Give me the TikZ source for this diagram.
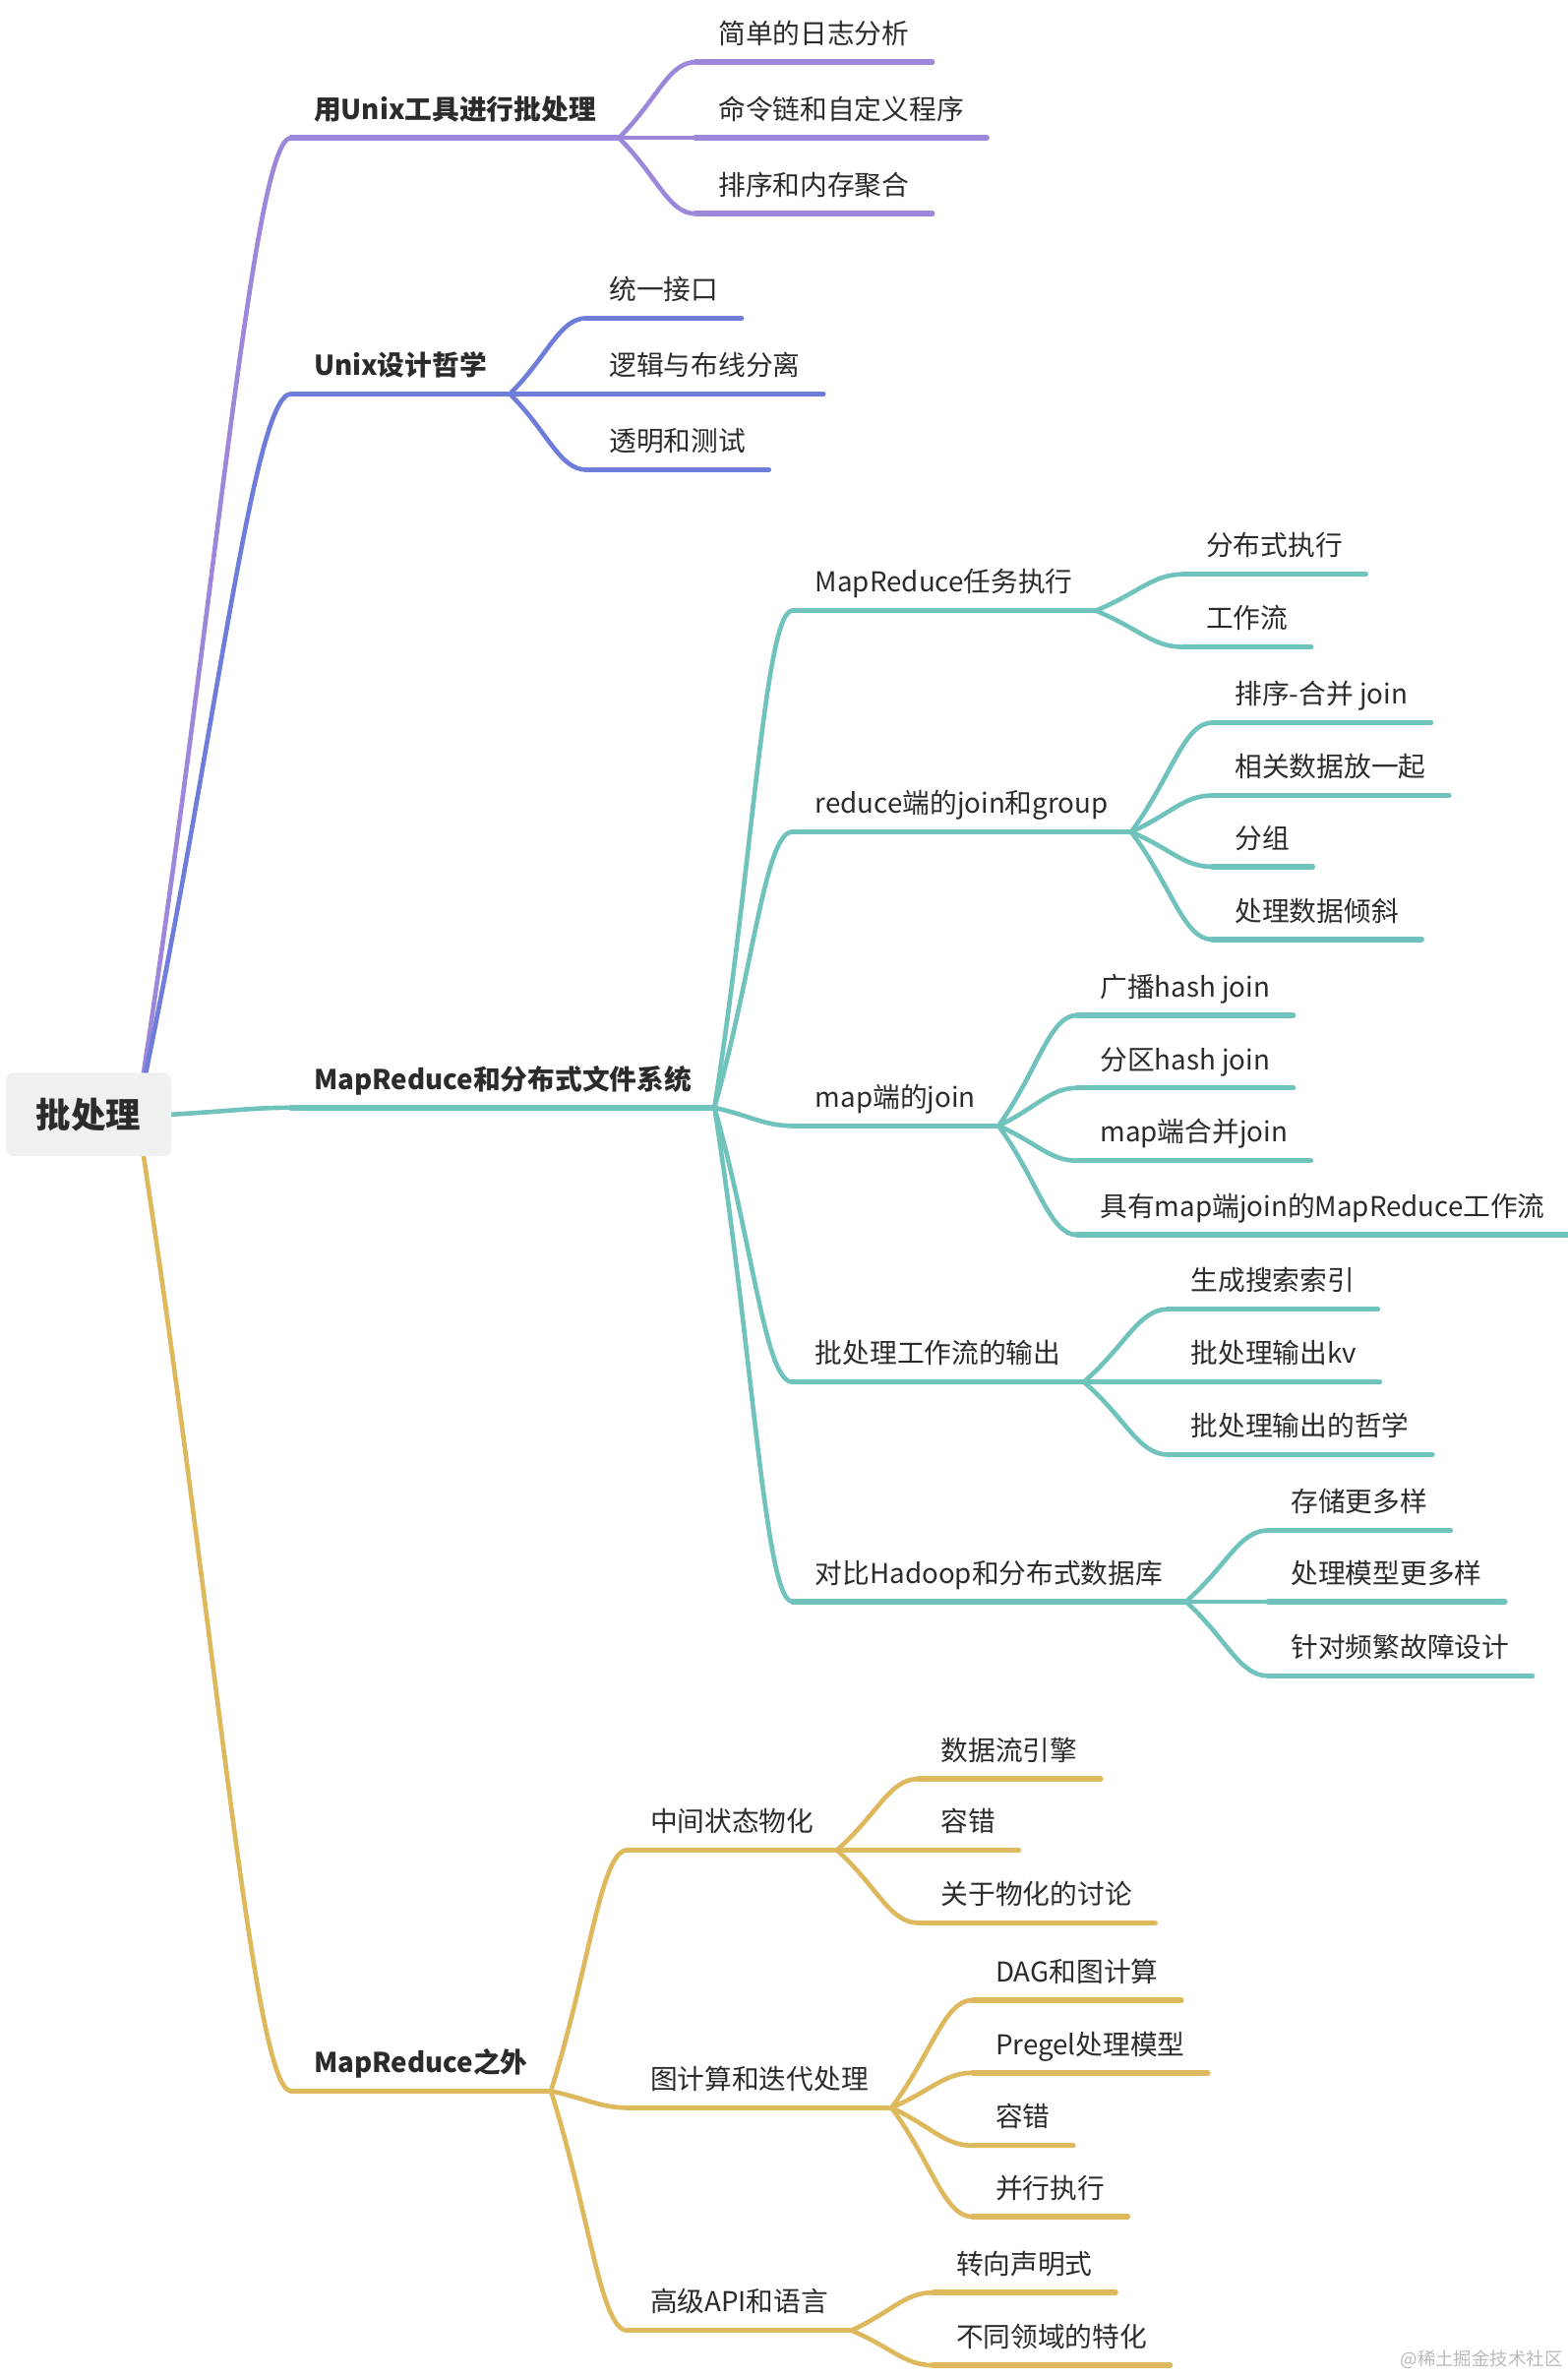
\documentclass[tikz,border=0pt]{standalone}
\usepackage{fontspec}
\setmainfont{Noto Sans CJK SC}
\usetikzlibrary{calc,backgrounds}
\definecolor{cpurple}{HTML}{9D87DA}
\definecolor{cblue}{HTML}{6E7DD9}
\definecolor{cteal}{HTML}{70C3BC}
\definecolor{cyellow}{HTML}{DDB85C}
\definecolor{ink}{HTML}{2B2B2B}
\definecolor{rootgray}{HTML}{EFF1F0}
% connector from the end of one underline to the start of the next
\newcommand{\link}[3]{\draw[br,#1] (#2.south east) .. controls ($(#2.south east)!0.5!(#3.south west)$) and ($(#3.south west)!0.35!(#2.south east |- #3.south west)$) .. (#3.south west);}
\begin{document}
\begin{tikzpicture}[x=1pt, y=-1pt, text=ink, font=\fontsize{18}{22}\selectfont,
  topic/.style = {anchor=south west, inner xsep=15pt, inner ysep=8pt, text height=14pt, text depth=4pt,
    append after command={(\tikzlastnode.south west) edge[ul, draw=#1] (\tikzlastnode.south east)}},
  main/.style = {topic=#1, font=\fontsize{18}{22}\selectfont\bfseries},
  root/.style = {fill=rootgray, rounded corners=5pt, minimum width=109pt, minimum height=55pt, inner sep=0pt,
    font=\fontsize{23}{26}\selectfont\bfseries},
  ul/.style = {line width=3.5pt, line cap=round},
  br/.style = {line width=3pt, line cap=round}]
\useasboundingbox (0,0) rectangle (1035,1569.4);

\node[root] (root) at (58.5,735.5) {批处理};
\coordinate (hub) at ([xshift=32pt]root.center);

% first level
\node[main=cpurple] (unix) at (192,91) {用Unix工具进行批处理};
\node[main=cblue] (phil) at (192,260) {Unix设计哲学};
\node[main=cteal] (mr) at (192,731) {MapReduce和分布式文件系统};
\node[main=cyellow] (beyond) at (192,1380) {MapReduce之外};

% Unix tools
\node[topic=cpurple] (u1) at (459,41) {简单的日志分析};
\node[topic=cpurple] (u2) at (459,91) {命令链和自定义程序};
\node[topic=cpurple] (u3) at (459,141) {排序和内存聚合};

% design philosophy
\node[topic=cblue] (p1) at (387,210) {统一接口};
\node[topic=cblue] (p2) at (387,260) {逻辑与布线分离};
\node[topic=cblue] (p3) at (387,310) {透明和测试};

% MapReduce
\node[topic=cteal] (job) at (523,403) {MapReduce任务执行};
\node[topic=cteal] (rside) at (523,549) {reduce端的join和group};
\node[topic=cteal] (mside) at (523,743) {map端的join};
\node[topic=cteal] (out) at (523,912) {批处理工作流的输出};
\node[topic=cteal] (cmp) at (523,1057) {对比Hadoop和分布式数据库};

\node[topic=cteal] (job1) at (781,379) {分布式执行};
\node[topic=cteal] (job2) at (781,427) {工作流};

\node[topic=cteal] (rs1) at (800,477) {排序-合并 join};
\node[topic=cteal] (rs2) at (800,525) {相关数据放一起};
\node[topic=cteal] (rs3) at (800,572) {分组};
\node[topic=cteal] (rs4) at (800,620) {处理数据倾斜};

\node[topic=cteal] (ms1) at (711,670) {广播hash join};
\node[topic=cteal] (ms2) at (711,718) {分区hash join};
\node[topic=cteal] (ms3) at (711,766) {map端合并join};
\node[topic=cteal] (ms4) at (711,815) {具有map端join的MapReduce工作流};

\node[topic=cteal] (out1) at (771,864) {生成搜索索引};
\node[topic=cteal] (out2) at (771,912) {批处理输出kv};
\node[topic=cteal] (out3) at (771,960) {批处理输出的哲学};

\node[topic=cteal] (cmp1) at (837,1010) {存储更多样};
\node[topic=cteal] (cmp2) at (837,1057) {处理模型更多样};
\node[topic=cteal] (cmp3) at (837,1106) {针对频繁故障设计};

% beyond MapReduce
\node[topic=cyellow] (mat) at (414,1221) {中间状态物化};
\node[topic=cyellow] (graph) at (414,1391) {图计算和迭代处理};
\node[topic=cyellow] (api) at (414,1538) {高级API和语言};

\node[topic=cyellow] (mat1) at (606,1174) {数据流引擎};
\node[topic=cyellow] (mat2) at (606,1221) {容错};
\node[topic=cyellow] (mat3) at (606,1269) {关于物化的讨论};

\node[topic=cyellow] (gr1) at (642,1320) {DAG和图计算};
\node[topic=cyellow] (gr2) at (642,1368) {Pregel处理模型};
\node[topic=cyellow] (gr3) at (642,1416) {容错};
\node[topic=cyellow] (gr4) at (642,1463) {并行执行};

\node[topic=cyellow] (api1) at (616,1513) {转向声明式};
\node[topic=cyellow] (api2) at (616,1561) {不同领域的特化};

\node[text=black!27, font=\fontsize{12}{14}\selectfont] (mark) at (978,1557) {@稀土掘金技术社区};

\begin{pgfonlayer}{background}
  % from the root
  \draw[br,cpurple] (hub) .. controls ($(hub)!0.5!(unix.south west)$) and ($(unix.south west)!0.25!(hub |- unix.south west)$) .. (unix.south west);
  \draw[br,cblue] (hub) .. controls ($(hub)!0.5!(phil.south west)$) and ($(phil.south west)!0.25!(hub |- phil.south west)$) .. (phil.south west);
  \draw[br,cteal] (root.east) .. controls ($(root.east)!0.5!(mr.south west)$) and ([xshift=-25pt]mr.south west) .. (mr.south west);
  \draw[br,cyellow] (hub) .. controls ($(hub)!0.5!(beyond.south west)$) and ($(beyond.south west)!0.25!(hub |- beyond.south west)$) .. (beyond.south west);

  \link{cpurple}{unix}{u1} \link{cpurple}{unix}{u2} \link{cpurple}{unix}{u3}
  \link{cblue}{phil}{p1} \link{cblue}{phil}{p2} \link{cblue}{phil}{p3}

  \link{cteal}{mr}{job} \link{cteal}{mr}{rside} \link{cteal}{mr}{mside}
  \link{cteal}{mr}{out} \link{cteal}{mr}{cmp}
  \link{cteal}{job}{job1} \link{cteal}{job}{job2}
  \link{cteal}{rside}{rs1} \link{cteal}{rside}{rs2} \link{cteal}{rside}{rs3} \link{cteal}{rside}{rs4}
  \link{cteal}{mside}{ms1} \link{cteal}{mside}{ms2} \link{cteal}{mside}{ms3} \link{cteal}{mside}{ms4}
  \link{cteal}{out}{out1} \link{cteal}{out}{out2} \link{cteal}{out}{out3}
  \link{cteal}{cmp}{cmp1} \link{cteal}{cmp}{cmp2} \link{cteal}{cmp}{cmp3}

  \link{cyellow}{beyond}{mat} \link{cyellow}{beyond}{graph} \link{cyellow}{beyond}{api}
  \link{cyellow}{mat}{mat1} \link{cyellow}{mat}{mat2} \link{cyellow}{mat}{mat3}
  \link{cyellow}{graph}{gr1} \link{cyellow}{graph}{gr2} \link{cyellow}{graph}{gr3} \link{cyellow}{graph}{gr4}
  \link{cyellow}{api}{api1} \link{cyellow}{api}{api2}
\end{pgfonlayer}
\end{tikzpicture}
\end{document}
